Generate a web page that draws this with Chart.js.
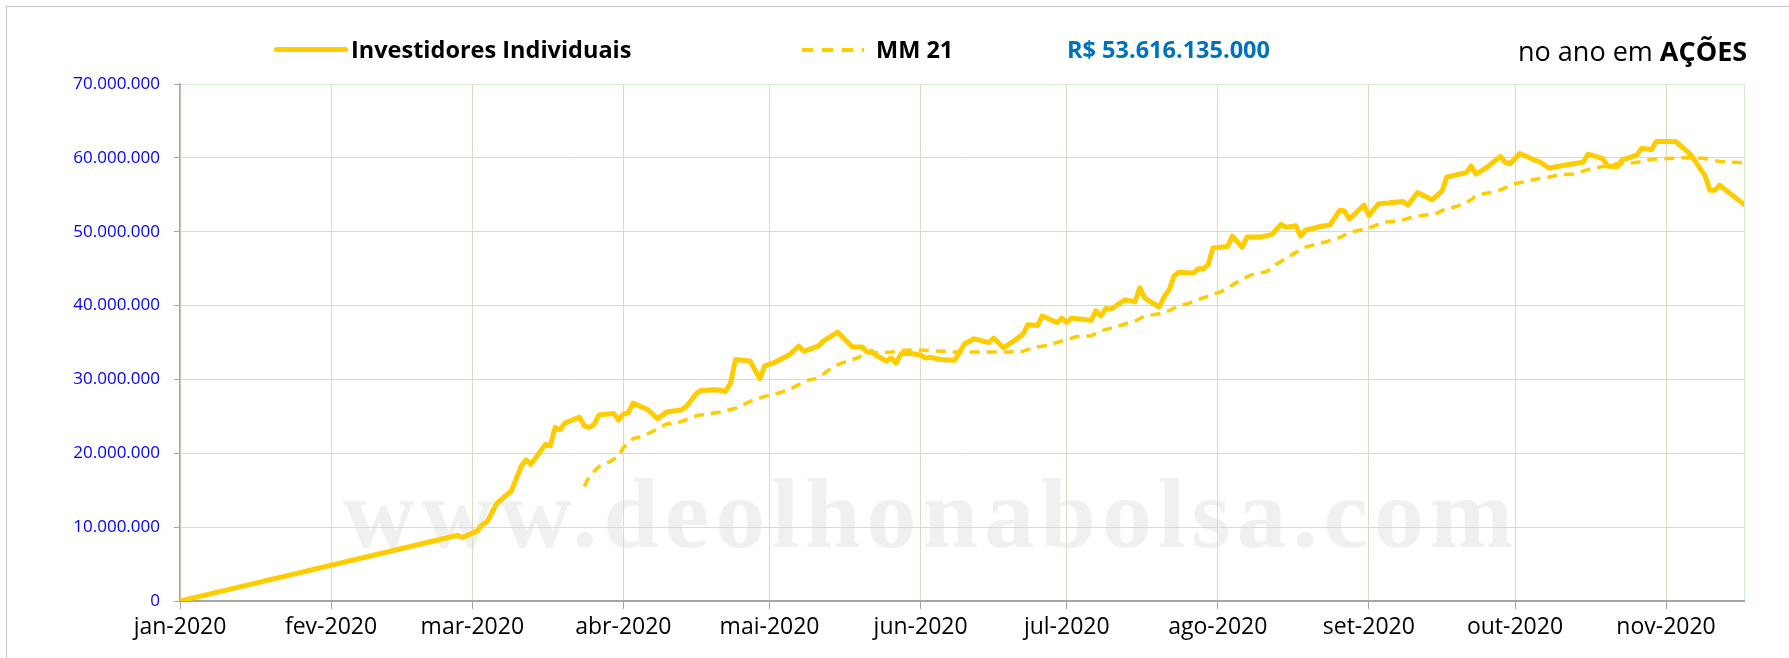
<!DOCTYPE html>
<html>
<head>
<meta charset="utf-8">
<script src="https://cdn.jsdelivr.net/npm/chart.js@4.4.0/dist/chart.umd.min.js"></script>
<style>
  html, body { margin: 0; padding: 0; background: #fff; }
  #wrap { position: relative; width: 1789px; height: 658px; overflow: hidden; font-family: "Open Sans", sans-serif; }
  #frame { position: absolute; left: 6px; top: 6px; width: 1800px; height: 700px; border: 1px solid #c4c4c4; }
  #watermark { position: absolute; left: 343px; top: 514px; font-family: "Liberation Serif", serif; font-weight: 900;
               font-size: 100px; letter-spacing: 6px; color: #f0f0f0; line-height: 0; white-space: nowrap; }
  #chart { position: absolute; left: 0; top: 0; }
  .hdr { position: absolute; top: 50px; transform: translateY(-50%); line-height: 1; white-space: nowrap; }
  .swatch { position: absolute; }
</style>
</head>
<body>
<div id="wrap">
  <div id="frame"></div>
  <div id="watermark">www.deolhonabolsa.com</div>
  <canvas id="chart" width="1789" height="658"></canvas>
  <div class="swatch" style="left:274px;top:47px;width:74px;height:5px;background:#FFCC00;border-radius:3px;"></div>
  <div class="hdr" style="left:351px;font-size:23.5px;font-weight:700;color:#000;">Investidores Individuais</div>
  <div class="swatch" style="left:802px;top:48px;width:62px;height:4px;background:repeating-linear-gradient(90deg,#FFCC00 0 11px,transparent 11px 20px);"></div>
  <div class="hdr" style="left:876px;font-size:23.5px;font-weight:700;color:#000;">MM 21</div>
  <div class="hdr" style="left:1067px;font-size:23.5px;font-weight:700;color:#0070C0;">R$ 53.616.135.000</div>
  <div class="hdr" style="left:1518px;font-size:27px;color:#000;">no ano em <b>AÇÕES</b></div>
</div>
<script>
// x axis: days since 1 Jan 2020
const monthLabels = ['jan-2020', 'fev-2020', 'mar-2020', 'abr-2020', 'mai-2020', 'jun-2020',
                     'jul-2020', 'ago-2020', 'set-2020', 'out-2020', 'nov-2020'];
const monthStarts = [0, 31, 60, 91, 121, 152, 182, 213, 244, 274, 305];
const lastDay = 321;

// y axis, in millions
const yTicks = [0, 10, 20, 30, 40, 50, 60, 70];

// Investidores Individuais (millions)
const investDays = [0, 57, 58, 61, 62, 63, 65, 68, 70, 71, 72, 75, 76, 77, 78, 79, 82, 83, 84, 85, 86, 89, 90,
  91, 92, 93, 96, 98, 100, 103, 104, 106, 107, 110, 112, 113, 114, 117, 119, 120, 122, 125, 127, 128, 131,
  132, 133, 135, 138, 140, 141, 142, 143, 145, 146, 147, 148, 150, 152, 153, 154, 156, 159, 161, 163, 166,
  167, 169, 170, 173, 174, 176, 177, 180, 181, 182, 183, 187, 188, 189, 190, 191, 194, 196, 197, 198, 201,
  202, 203, 204, 205, 208, 209, 210, 211, 212, 215, 216, 218, 219, 222, 224, 226, 227, 229, 230, 231, 234,
  236, 238, 239, 240, 243, 244, 246, 248, 251, 252, 254, 257, 259, 260, 264, 265, 266, 268, 271, 272, 273,
  275, 278, 279, 281, 284, 288, 289, 292, 293, 295, 296, 299, 300, 302, 303, 307, 310, 313, 314, 315, 316, 321];
const investValues = [0, 8.9, 8.6, 9.5, 10.3, 10.7, 13.2, 14.9, 18.2, 19.1, 18.5, 21.2, 21.0, 23.5, 23.2, 24.1,
  24.9, 23.7, 23.5, 23.9, 25.2, 25.4, 24.5, 25.3, 25.5, 26.8, 25.9, 24.7, 25.6, 25.9, 26.4, 28.1, 28.5, 28.6,
  28.4, 29.5, 32.7, 32.5, 30.1, 31.8, 32.3, 33.3, 34.5, 33.8, 34.5, 35.2, 35.6, 36.4, 34.4, 34.4, 33.7, 33.8,
  33.2, 32.5, 32.9, 32.2, 33.5, 33.5, 33.3, 32.9, 33.0, 32.7, 32.6, 34.8, 35.5, 35.0, 35.6, 34.3, 34.7, 36.1,
  37.4, 37.3, 38.6, 37.7, 38.3, 37.7, 38.3, 38.0, 39.3, 38.6, 39.6, 39.5, 40.8, 40.5, 42.4, 41.0, 39.8, 41.2,
  42.1, 44.0, 44.5, 44.4, 45.0, 45.0, 45.5, 47.8, 48.0, 49.4, 47.9, 49.3, 49.3, 49.6, 51.0, 50.6, 50.8, 49.4,
  50.2, 50.7, 50.9, 52.9, 52.8, 51.7, 53.6, 52.2, 53.8, 53.9, 54.1, 53.6, 55.3, 54.3, 55.5, 57.4, 58.0, 58.9,
  57.8, 58.6, 60.2, 59.4, 59.2, 60.6, 59.7, 59.5, 58.6, 59.0, 59.4, 60.5, 59.9, 58.9, 58.8, 59.7, 60.4, 61.3,
  61.1, 62.2, 62.2, 60.5, 57.6, 55.6, 55.6, 56.3, 53.7];

// MM 21 moving average (millions)
const mmDays = [83, 84, 86, 88, 90, 91, 93, 95, 98, 100, 102, 104, 106, 108, 111, 114, 116, 118, 120, 122,
  125, 127, 129, 131, 133, 135, 137, 139, 141, 144, 146, 148, 151, 154, 157, 159, 162, 165, 168, 170, 173,
  175, 178, 182, 184, 187, 189, 192, 194, 196, 198, 201, 203, 205, 207, 209, 212, 214, 216, 218, 220, 223,
  225, 227, 229, 231, 233, 235, 238, 240, 242, 244, 247, 249, 251, 253, 256, 258, 260, 262, 265, 266, 268,
  270, 274, 276, 279, 281, 283, 286, 288, 290, 293, 295, 298, 300, 302, 305, 308, 311, 313, 316, 319, 321];
const mmValues = [15.5, 16.9, 18.2, 18.8, 19.6, 20.8, 22.0, 22.3, 23.3, 24.0, 24.1, 24.6, 25.1, 25.3, 25.6,
  26.1, 26.7, 27.3, 27.7, 28.0, 28.6, 29.3, 29.9, 30.2, 31.2, 32.0, 32.5, 32.9, 33.6, 33.6, 33.7, 33.9, 34.0,
  33.9, 33.8, 33.7, 33.7, 33.7, 33.7, 33.7, 33.8, 34.3, 34.6, 35.4, 35.8, 35.9, 36.6, 37.1, 37.5, 37.9, 38.6,
  38.9, 39.3, 40.0, 40.3, 40.8, 41.5, 42.0, 42.8, 43.6, 44.2, 44.6, 45.6, 46.4, 47.2, 47.9, 48.3, 48.6, 49.2,
  49.9, 50.2, 50.5, 51.3, 51.4, 51.6, 52.0, 52.3, 52.5, 53.2, 53.4, 54.3, 54.9, 55.2, 55.4, 56.5, 56.8, 57.2,
  57.4, 57.7, 57.8, 58.2, 58.6, 58.9, 59.2, 59.3, 59.5, 59.8, 59.9, 60.0, 60.0, 59.9, 59.5, 59.4, 59.3];

function fmtMillions(v) {
  return Math.round(v * 1000000).toString().replace(/\B(?=(\d{3})+(?!\d))/g, '.');
}

const ctx = document.getElementById('chart').getContext('2d');
new Chart(ctx, {
  type: 'line',
  data: {
    datasets: [
      {
        label: 'Investidores Individuais',
        data: investDays.map((d, i) => ({ x: d, y: investValues[i] })),
        borderColor: '#FFCC00',
        borderWidth: 5,
        pointRadius: 0,
        tension: 0,
        borderJoinStyle: 'round',
        borderCapStyle: 'round'
      },
      {
        label: 'MM 21',
        data: mmDays.map((d, i) => ({ x: d, y: mmValues[i] })),
        borderColor: '#FFCC00',
        borderWidth: 3.5,
        borderDash: [10, 7],
        pointRadius: 0,
        tension: 0
      }
    ]
  },
  options: {
    responsive: false,
    animation: false,
    layout: { padding: { top: 84, right: 45, left: 0, bottom: 0 } },
    plugins: {
      legend: { display: false },
      tooltip: { enabled: false }
    },
    scales: {
      x: {
        type: 'linear',
        min: 0,
        max: lastDay,
        afterBuildTicks: (s) => { s.ticks = monthStarts.concat([lastDay]).map(v => ({ value: v })); },
        afterFit: (s) => { s.height = 57; },
        ticks: {
          autoSkip: false,
          maxRotation: 0,
          color: '#000',
          padding: 5,
          font: { family: 'Open Sans', size: 23 },
          callback: (v) => {
            const i = monthStarts.indexOf(v);
            return i >= 0 ? monthLabels[i] : '';
          }
        },
        grid: {
          color: (c) => (c.tick && c.tick.value === lastDay ? '#d4ecd0' : '#ddd9c3'),
          tickColor: (c) => (c.tick && c.tick.value === lastDay ? 'rgba(0,0,0,0)' : '#a6a6a6'),
          tickLength: 8,
          lineWidth: 1
        },
        border: { color: '#a6a6a6', width: 2 }
      },
      y: {
        min: 0,
        max: 70,
        afterBuildTicks: (s) => { s.ticks = yTicks.map(v => ({ value: v })); },
        afterFit: (s) => { s.width = 180; },
        ticks: {
          color: '#0000ff',
          padding: 14,
          font: { family: 'Open Sans', size: 17 },
          callback: (v) => fmtMillions(v)
        },
        grid: {
          color: (c) => (c.tick && c.tick.value === 70 ? '#d4ecd0' : '#d9d9d9'),
          tickColor: '#a6a6a6',
          tickLength: 6,
          lineWidth: 1
        },
        border: { color: '#a6a6a6', width: 1.5 }
      }
    }
  }
});
</script>
</body>
</html>
